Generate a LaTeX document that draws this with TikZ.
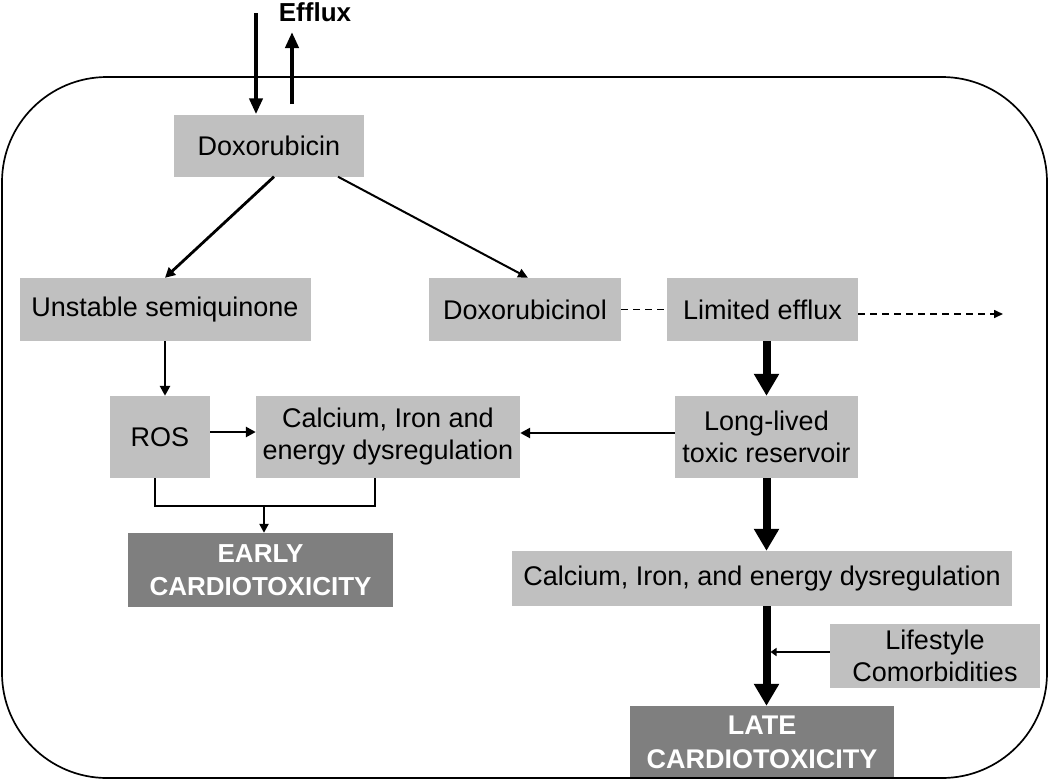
\documentclass[tikz,border=0pt]{standalone}
\usepackage{fontspec}
\setmainfont{Liberation Sans}
\usetikzlibrary{arrows.meta,calc}
\definecolor{lightbox}{HTML}{C0C0C0}
\definecolor{darkbox}{HTML}{7F7F7F}
\begin{document}
\begin{tikzpicture}[x=1pt,y=-1pt,
  box/.style={rectangle,fill=lightbox,inner sep=0pt,align=center,
    font=\fontsize{27}{32}\selectfont},
  outbox/.style={rectangle,fill=darkbox,inner sep=0pt,align=center,text=white,
    font=\fontsize{26}{33}\selectfont\bfseries},
  thinarrow/.style={line width=2.8pt,-{Triangle[width=10pt,length=10pt]}},
  finearrow/.style={line width=2pt,-{Triangle[width=9pt,length=10pt]}},
  effluxarrow/.style={line width=4.5pt,-{Triangle[width=13pt,length=16pt]}},
  thickarrow/.style={line width=8pt,-{Triangle[width=24pt,length=22pt]}},
  dashline/.style={line width=1.6pt,dash pattern=on 7pt off 5pt},
  plainline/.style={line width=2.8pt}
]
\useasboundingbox (0,0) rectangle (1050,780);
\fill[white] (0,0) rectangle (1050,780);

% nodes
\node[box,minimum width=190pt,minimum height=62pt] (dox) at (269,145.5) {Doxorubicin};
\node[box,minimum width=291pt,minimum height=63pt] (semi) at (165,309.5) {Unstable semiquinone};
\node[box,minimum width=192pt,minimum height=63pt] (doxol) at (525,309.5) {Doxorubicinol};
\node[box,minimum width=191pt,minimum height=63pt] (limef) at (762.5,309.5) {Limited efflux};
\node[box,minimum width=100pt,minimum height=82pt] (ros) at (160,437) {ROS};
\node[box,minimum width=264pt,minimum height=82pt] (cal1) at (388,437) {Calcium, Iron and\\energy dysregulation};
\node[box,minimum width=183pt,minimum height=82pt] (res) at (766.5,437) {Long-lived\\toxic reservoir};
\node[box,minimum width=500pt,minimum height=55pt] (cal2) at (762,578.5) {Calcium, Iron, and energy dysregulation};
\node[box,minimum width=210pt,minimum height=64pt] (life) at (935,656) {Lifestyle\\Comorbidities};
\node[outbox,minimum width=265pt,minimum height=74pt] (early) at (260.5,570) {EARLY\\CARDIOTOXICITY};
\node[outbox,minimum width=264pt,minimum height=72pt,font=\fontsize{27}{34}\selectfont\bfseries] (late) at (762,742) {LATE\\CARDIOTOXICITY};
\node[font=\fontsize{26}{30}\selectfont\bfseries,inner sep=0pt,anchor=base] (efflux) at (315,21) {Efflux};

% outer cell
\draw[line width=1.7pt,rounded corners=105pt] (2,77) rectangle (1047,778);

% efflux arrows
\coordinate (inTop) at (256,13);
\coordinate (outBot) at (292,104);
\coordinate (outTop) at (292,32);
\draw[effluxarrow] (inTop) -- (dox.north -| inTop);
\draw[effluxarrow] (outBot) -- (outTop);

% from doxorubicin
\draw[thinarrow] ($(dox.south)+(5,0)$) -- (semi.north);
\draw[finearrow] ($(dox.south)+(69,0)$) -- ($(doxol.north)+(3,0)$);

% dashed
\coordinate (dashEnd) at (1003,314);
\draw[dashline] (doxol.east) -- (limef.west);
\draw[dashline,-{Triangle[width=8pt,length=9pt]}] (limef.east |- dashEnd) -- (dashEnd);

% left chain
\draw[thinarrow] (semi.south) -- (semi.south |- ros.north);
\coordinate (ya) at (0,432);
\coordinate (yb) at (0,433);
\draw[thinarrow] (ros.east |- ya) -- (cal1.west |- ya);
\draw[thinarrow] (res.west |- yb) -- (cal1.east |- yb);

% bracket to early
\coordinate (bj) at (264,506);
\draw[plainline] ([xshift=-5pt]ros.south) |- (bj) -| ([xshift=-13pt]cal1.south);
\draw[thinarrow,-{Triangle[width=9pt,length=9pt]}] (bj) -- (early.north -| bj);

% right chain thick arrows
\draw[thickarrow] (limef.south -| res) -- (res.north);
\draw[thickarrow] (res.south) -- (res.south |- cal2.north);
\draw[thickarrow] (cal2.south -| res) -- (late.north -| res);
\draw[thinarrow,-{Triangle[width=8pt,length=6pt]},shorten >=4pt] (life.west |- 0,652) -- (res.south |- 0,652);
\end{tikzpicture}
\end{document}
